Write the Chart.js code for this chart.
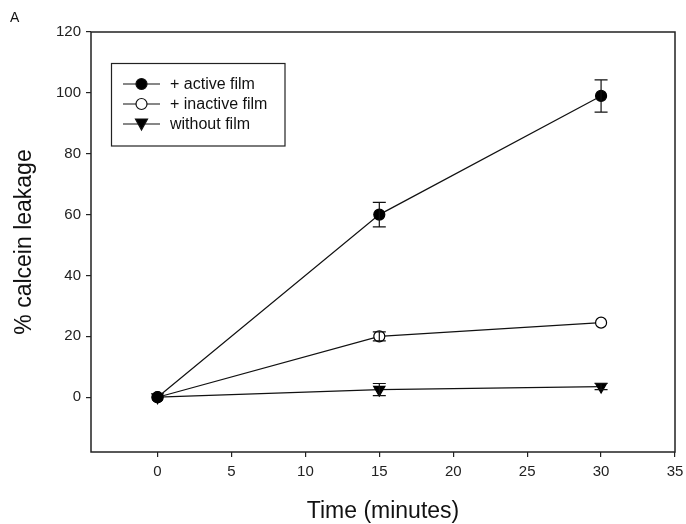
<!DOCTYPE html>
<html>
<head>
<meta charset="utf-8">
<script src="https://cdn.jsdelivr.net/npm/chart.js@4.4.1/dist/chart.umd.min.js"></script>
<style>
  html, body { margin: 0; padding: 0; background: #fff; }
  #wrap { width: 686px; height: 524px; }
</style>
</head>
<body>
<div id="wrap"><canvas id="chart" width="686" height="524"></canvas></div>
<script>
const times = [0, 15, 30];
const activeFilm = [0, 60, 99];
const activeErr = [0, 4, 5.3];
const inactiveFilm = [0, 20, 24.5];
const inactiveErr = [0, 1.5, 0];
const withoutFilm = [0, 2.5, 3.5];
const withoutErr = [0, 2, 1];
const yTicks = [0, 20, 40, 60, 80, 100, 120];
const xTicks = [0, 5, 10, 15, 20, 25, 30, 35];

const font = "'Liberation Sans', Arial, sans-serif";

function pts(ys, errs) {
    return times.map((t, i) => ({ x: t, y: ys[i], err: errs[i] }));
}

// error bars + box frame + legend + titles
const extras = {
    id: "extras",
    afterDatasetsDraw(chart) {
        const ctx = chart.ctx;
        const xs = chart.scales.x, ys = chart.scales.y;
        ctx.save();
        ctx.strokeStyle = "#111";
        ctx.lineWidth = 1.2;
        chart.data.datasets.forEach(ds => {
            ds.data.forEach(p => {
                if (!p.err) return;
                const px = xs.getPixelForValue(p.x);
                const top = ys.getPixelForValue(p.y + p.err);
                const bot = ys.getPixelForValue(p.y - p.err);
                ctx.beginPath();
                ctx.moveTo(px, top); ctx.lineTo(px, bot);
                ctx.moveTo(px - 6.5, top); ctx.lineTo(px + 6.5, top);
                ctx.moveTo(px - 6.5, bot); ctx.lineTo(px + 6.5, bot);
                ctx.stroke();
            });
        });
        ctx.restore();
    },
    afterDraw(chart) {
        const ctx = chart.ctx;
        const a = chart.chartArea;
        ctx.save();
        // frame
        ctx.strokeStyle = "#222";
        ctx.lineWidth = 1.5;
        ctx.strokeRect(a.left, a.top, a.right - a.left, a.bottom - a.top);

        // legend box
        ctx.lineWidth = 1.2;
        ctx.strokeRect(111.5, 63.5, 173.5, 82.5);
        ctx.font = "16px " + font;
        ctx.textBaseline = "middle";
        const rowY = [84, 104, 124];
        chart.data.datasets.forEach((ds, i) => {
            const y = rowY[i];
            ctx.strokeStyle = "#111";
            ctx.lineWidth = 1.2;
            ctx.beginPath();
            ctx.moveTo(123, y); ctx.lineTo(160, y);
            ctx.stroke();
            ctx.fillStyle = ds.pointBackgroundColor;
            ctx.beginPath();
            if (ds.pointStyle === "circle") {
                ctx.arc(141.5, y, 5.5, 0, Math.PI * 2);
            } else {
                ctx.moveTo(135.5, y - 5); ctx.lineTo(147.5, y - 5); ctx.lineTo(141.5, y + 6); ctx.closePath();
            }
            ctx.fill();
            ctx.stroke();
            ctx.fillStyle = "#111";
            ctx.textAlign = "left";
            ctx.fillText(ds.label, 170, y + 1);
        });

        // titles
        ctx.fillStyle = "#111";
        ctx.textAlign = "center";
        ctx.font = "23px " + font;
        ctx.fillText("Time (minutes)", (a.left + a.right) / 2, 512);
        ctx.translate(25, (a.top + a.bottom) / 2);
        ctx.rotate(-Math.PI / 2);
        ctx.fillText("% calcein leakage", 0, 0);
        ctx.restore();

        ctx.save();
        ctx.font = "14px " + font;
        ctx.fillStyle = "#111";
        ctx.textBaseline = "middle";
        ctx.fillText("A", 10, 18);
        ctx.restore();
    }
};

new Chart(document.getElementById("chart"), {
    type: "line",
    data: {
        datasets: [
            {
                label: "+ active film",
                data: pts(activeFilm, activeErr),
                borderColor: "#111",
                borderWidth: 1.2,
                pointStyle: "circle",
                pointRadius: 5.5,
                pointBackgroundColor: "#000",
                pointBorderColor: "#000"
            },
            {
                label: "+ inactive film",
                data: pts(inactiveFilm, inactiveErr),
                borderColor: "#111",
                borderWidth: 1.2,
                pointStyle: "circle",
                pointRadius: 5.5,
                pointBackgroundColor: "#fff",
                pointBorderColor: "#000"
            },
            {
                label: "without film",
                data: pts(withoutFilm, withoutErr),
                borderColor: "#111",
                borderWidth: 1.2,
                pointStyle: "triangle",
                rotation: 180,
                pointRadius: 6.5,
                pointBackgroundColor: "#000",
                pointBorderColor: "#000"
            }
        ]
    },
    options: {
        responsive: false,
        animation: false,
        layout: { padding: { top: 32, right: 11, left: 0, bottom: 0 } },
        plugins: {
            legend: { display: false },
            tooltip: { enabled: false }
        },
        scales: {
            x: {
                type: "linear",
                min: -4.5,
                max: 35,
                afterBuildTicks: s => { s.ticks = xTicks.map(v => ({ value: v })); },
                afterFit: s => { s.height = 72; s.paddingRight = 0; s.paddingLeft = 0; },
                border: { display: false },
                grid: { drawOnChartArea: false, drawTicks: true, tickLength: 5, color: "#222", lineWidth: 1.2 },
                ticks: { color: "#222", font: { family: font, size: 15 }, padding: 6, maxRotation: 0 }
            },
            y: {
                type: "linear",
                min: -18,
                max: 120,
                afterBuildTicks: s => { s.ticks = yTicks.map(v => ({ value: v })); },
                afterFit: s => { s.width = 91; s.paddingTop = 0; s.paddingBottom = 0; },
                border: { display: false },
                grid: { drawOnChartArea: false, drawTicks: true, tickLength: 5, color: "#222", lineWidth: 1.2 },
                ticks: { color: "#222", font: { family: font, size: 15 }, padding: 5 }
            }
        }
    },
    plugins: [extras]
});
</script>
</body>
</html>
